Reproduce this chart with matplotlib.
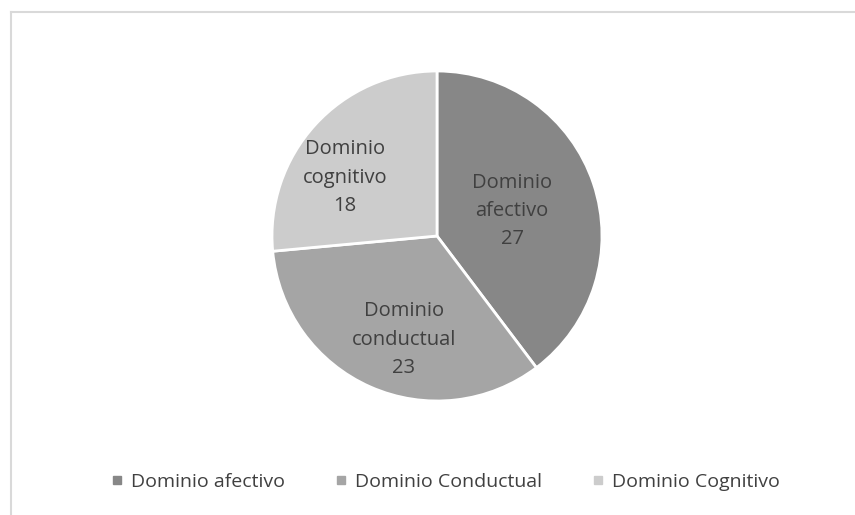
import matplotlib.pyplot as plt
from matplotlib.lines import Line2D
import numpy as np

# Data
labels = ['Dominio\nafectivo', 'Dominio\nconductual', 'Dominio\ncognitivo']
legend_labels = ['Dominio afectivo', 'Dominio Conductual', 'Dominio Cognitivo']
values = [27, 23, 18]
colors = ['#878787', '#a5a5a5', '#cccccc']
# label placement inside each slice (radial distance, angle shift in degrees)
label_dist = [0.48, 0.66, 0.66]
label_shift = [0, 6, 10]

plt.rcParams['font.family'] = ['Open Sans', 'DejaVu Sans']

fig = plt.figure(figsize=(8.55, 5.15), dpi=100)

# light border lines (top and left)
fig.add_artist(Line2D([11 / 855, 11 / 855], [0, 1 - 12 / 515],
                      color='#d9d9d9', lw=1.5))
fig.add_artist(Line2D([11 / 855, 1], [1 - 12 / 515, 1 - 12 / 515],
                      color='#d9d9d9', lw=1.5))

ax = fig.add_axes([272 / 855, 114 / 515, 330 / 855, 330 / 515])
wedges, _ = ax.pie(values, colors=colors, startangle=90, counterclock=False,
                   wedgeprops=dict(edgecolor='white', linewidth=2))
ax.set_xlim(-1, 1)
ax.set_ylim(-1, 1)
ax.set_aspect('equal')

for w, lab, v, d, s in zip(wedges, labels, values, label_dist, label_shift):
    ang = np.deg2rad((w.theta1 + w.theta2) / 2 + s)
    ax.text(d * np.cos(ang), d * np.sin(ang), f'{lab}\n{v}',
            ha='center', va='center', fontsize=14.5, color='#404040',
            linespacing=1.55)

handles = [Line2D([], [], marker='s', linestyle='none', markersize=6,
                  markerfacecolor=c, markeredgecolor=c) for c in colors]
fig.legend(handles, legend_labels, loc='center', bbox_to_anchor=(0.52, 0.064),
           ncol=3, frameon=False, fontsize=14, labelcolor='#404040',
           handletextpad=0.3, columnspacing=2.5, handlelength=0.8)

fig.savefig('out.png', dpi=100)
